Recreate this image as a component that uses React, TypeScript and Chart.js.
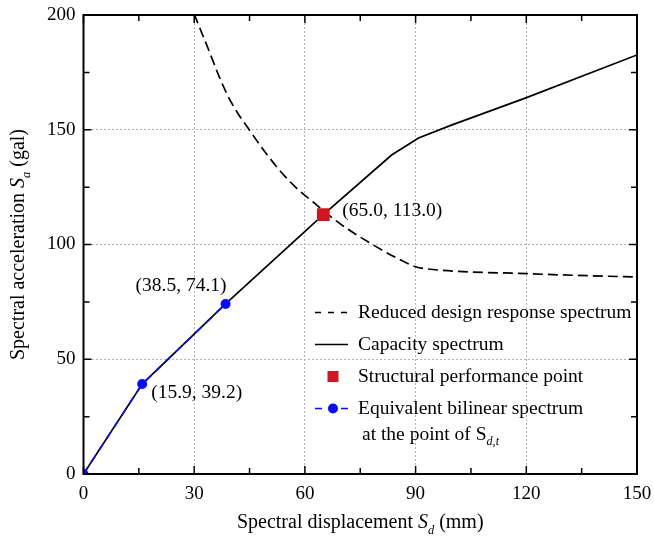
import React, { useEffect, useRef } from 'react';
import { Chart, registerables } from 'chart.js';

Chart.register(...registerables);

const FONT = "'Liberation Serif', 'Times New Roman', Times, serif";

// Reduced design response spectrum (dashed)
const designX = [30.0, 30.6, 33.8, 36.5, 39.2, 41.9, 45.0, 49.1, 53.6, 58.1, 62.6, 65.7, 70.7, 77.9, 85.0, 90.0, 92.5, 120.0, 150.0];
const designY = [200.5, 198.0, 185.3, 174.2, 164.5, 157.0, 149.8, 140.5, 131.5, 124.0, 118.0, 113.8, 107.7, 100.4, 94.0, 90.3, 89.5, 87.3, 85.8];

// Capacity spectrum (solid)
const capacityX = [0, 15.9, 38.5, 65.0, 83.5, 90.8, 99.7, 119.7, 150.0];
const capacityY = [0, 39.2, 74.1, 113.0, 139.0, 146.4, 152.0, 163.8, 182.6];

// Equivalent bilinear spectrum
const bilinearX = [0, 15.9, 38.5];
const bilinearY = [0, 39.2, 74.1];

// Structural performance point
const perfX = [65.0];
const perfY = [113.0];

// Point labels
const labelX = [15.9, 38.5, 65.0];
const labelY = [39.2, 74.1, 113.0];
const labelText = ['(15.9, 39.2)', '(38.5, 74.1)', '(65.0, 113.0)'];

// Axes
const xMin = 0, xMax = 150, xMajor = 30, xMinor = 15;
const yMin = 0, yMax = 200, yMajor = 50, yMinor = 25;

const legendLabels = [
  'Reduced design response spectrum',
  'Capacity spectrum',
  'Structural performance point',
  'Equivalent bilinear spectrum',
];

const BLUE = '#0a0aff';
const RED = '#d0161e';

type Seg = { t: string; it?: boolean; sub?: boolean };

function segFont(s: Seg, size: number) {
  return `${s.it ? 'italic ' : ''}${s.sub ? size * 0.62 : size}px ${FONT}`;
}
function richWidth(ctx: CanvasRenderingContext2D, segs: Seg[], size: number) {
  let w = 0;
  for (const s of segs) {
    ctx.font = segFont(s, size);
    w += ctx.measureText(s.t).width;
  }
  return w;
}
function drawRich(ctx: CanvasRenderingContext2D, segs: Seg[], x: number, y: number, size: number, align: 'left' | 'center' | 'right') {
  const w = richWidth(ctx, segs, size);
  let cx = align === 'center' ? x - w / 2 : align === 'right' ? x - w : x;
  ctx.textAlign = 'left';
  ctx.textBaseline = 'alphabetic';
  for (const s of segs) {
    ctx.font = segFont(s, size);
    ctx.fillText(s.t, cx, s.sub ? y + size * 0.28 : y);
    cx += ctx.measureText(s.t).width;
  }
}

const decorPlugin = {
  id: 'decor',
  afterDraw(chart: any) {
    const { ctx, chartArea: a, scales } = chart;
    const xs = scales.x;
    const ys = scales.y;
    ctx.save();
    ctx.strokeStyle = '#000';
    ctx.fillStyle = '#000';
    ctx.setLineDash([]);
    // inward ticks on all four sides
    ctx.lineWidth = 1.5;
    ctx.beginPath();
    for (let v = xMin; v <= xMax; v += xMinor) {
      const px = xs.getPixelForValue(v);
      const L = v % xMajor === 0 ? 8 : 6;
      ctx.moveTo(px, a.bottom); ctx.lineTo(px, a.bottom - L);
      ctx.moveTo(px, a.top); ctx.lineTo(px, a.top + L);
    }
    for (let v = yMin; v <= yMax; v += yMinor) {
      const py = ys.getPixelForValue(v);
      const L = v % yMajor === 0 ? 8 : 6;
      ctx.moveTo(a.left, py); ctx.lineTo(a.left + L, py);
      ctx.moveTo(a.right, py); ctx.lineTo(a.right - L, py);
    }
    ctx.stroke();
    // frame
    ctx.lineWidth = 2;
    ctx.strokeRect(a.left, a.top, a.right - a.left, a.bottom - a.top);

    // point labels
    const offs = [
      { dx: 9, dy: 13.5, align: 'left' },
      { dx: 1, dy: -12.5, align: 'right' },
      { dx: 19, dy: 1, align: 'left' },
    ];
    for (let i = 0; i < labelText.length; i++) {
      const px = xs.getPixelForValue(labelX[i]);
      const py = ys.getPixelForValue(labelY[i]);
      drawRich(ctx, [{ t: labelText[i] }], px + offs[i].dx, py + offs[i].dy, 19.5, offs[i].align as any);
    }

    // legend
    const lx0 = 315, lx1 = 348, tx = 358;
    const rows = [312.5, 344.5, 376.5, 408.5];
    const base = [317.5, 350, 382, 413.5];
    ctx.lineWidth = 1.7;
    ctx.strokeStyle = '#000';
    ctx.setLineDash([6, 7]);
    ctx.beginPath(); ctx.moveTo(lx0, rows[0]); ctx.lineTo(lx1, rows[0]); ctx.stroke();
    ctx.setLineDash([]);
    ctx.beginPath(); ctx.moveTo(lx0, rows[1]); ctx.lineTo(lx1, rows[1]); ctx.stroke();
    ctx.fillStyle = RED;
    ctx.fillRect(327.5, rows[2] - 5.5, 11, 11);
    ctx.strokeStyle = BLUE;
    ctx.beginPath(); ctx.moveTo(lx0, rows[3]); ctx.lineTo(lx0 + 7, rows[3]); ctx.moveTo(lx1 - 7, rows[3]); ctx.lineTo(lx1, rows[3]); ctx.stroke();
    ctx.fillStyle = BLUE;
    ctx.beginPath(); ctx.arc(333, rows[3], 5, 0, Math.PI * 2); ctx.fill();
    ctx.fillStyle = '#000';
    for (let i = 0; i < legendLabels.length; i++) {
      drawRich(ctx, [{ t: legendLabels[i] }], tx, base[i], 19.5, 'left');
    }
    drawRich(ctx, [{ t: 'at the point of S' }, { t: 'd,t', it: true, sub: true }], 362, 439.5, 19.5, 'left');

    // axis titles
    const cxTitle = (a.left + a.right) / 2;
    drawRich(ctx, [{ t: 'Spectral displacement ' }, { t: 'S', it: true }, { t: 'd', it: true, sub: true }, { t: ' (mm)' }], cxTitle, 528, 20, 'center');
    ctx.translate(24, (a.top + a.bottom) / 2);
    ctx.rotate(-Math.PI / 2);
    drawRich(ctx, [{ t: 'Spectral acceleration ' }, { t: 'S', it: true }, { t: 'a', it: true, sub: true }, { t: ' (gal)' }], 0, 0, 20, 'center');
    ctx.restore();
  },
};

function gridColor(major: number, min: number, max: number) {
  return (c: any) => {
    const v = c.tick ? c.tick.value : NaN;
    return v % major === 0 && v > min && v < max ? '#b4b4b4' : 'rgba(0,0,0,0)';
  };
}

export default function App() {
  const ref = useRef<HTMLCanvasElement | null>(null);
  useEffect(() => {
    if (!ref.current) return;
    const toPts = (xs: number[], ys: number[]) => xs.map((x, i) => ({ x, y: ys[i] }));
    const chart = new Chart(ref.current, {
      type: 'scatter',
      data: {
        datasets: [
          {
            label: legendLabels[2],
            data: toPts(perfX, perfY),
            pointStyle: 'rect',
            pointRadius: 9,
            backgroundColor: RED,
            borderColor: RED,
            borderWidth: 0,
            showLine: false,
            order: 0,
          },
          {
            label: legendLabels[3],
            data: toPts(bilinearX, bilinearY),
            showLine: true,
            borderColor: BLUE,
            borderWidth: 1.7,
            borderDash: [8, 6],
            pointRadius: 5,
            pointBackgroundColor: BLUE,
            pointBorderWidth: 0,
            order: 1,
          },
          {
            label: legendLabels[1],
            data: toPts(capacityX, capacityY),
            showLine: true,
            borderColor: '#000',
            borderWidth: 1.7,
            pointRadius: 0,
            order: 2,
          },
          {
            label: legendLabels[0],
            data: toPts(designX, designY),
            showLine: true,
            borderColor: '#000',
            borderWidth: 1.7,
            borderDash: [10, 5],
            cubicInterpolationMode: 'monotone',
            pointRadius: 0,
            order: 3,
          },
        ],
      } as any,
      options: {
        animation: false,
        responsive: false,
        layout: { padding: { left: 0, top: 15, right: 17, bottom: 0 } },
        plugins: { legend: { display: false }, tooltip: { enabled: false } },
        scales: {
          x: {
            type: 'linear',
            min: xMin,
            max: xMax,
            afterFit: (s: any) => { s.height = 71; s.paddingLeft = 0; s.paddingRight = 0; },
            ticks: {
              stepSize: xMinor,
              autoSkip: false,
              maxRotation: 0,
              padding: 9,
              color: '#000',
              font: { family: FONT, size: 19 },
              callback: (v: any) => (Number(v) % xMajor === 0 ? String(v) : ''),
            },
            grid: { color: gridColor(xMajor, xMin, xMax), lineWidth: 1, drawTicks: false },
            border: { display: false, dash: [2, 2] },
          },
          y: {
            type: 'linear',
            min: yMin,
            max: yMax,
            afterFit: (s: any) => { s.width = 83.5; s.paddingTop = 0; s.paddingBottom = 0; },
            ticks: {
              stepSize: yMinor,
              autoSkip: false,
              padding: 8,
              color: '#000',
              font: { family: FONT, size: 19 },
              callback: (v: any) => (Number(v) % yMajor === 0 ? String(v) : ''),
            },
            grid: { color: gridColor(yMajor, yMin, yMax), lineWidth: 1, drawTicks: false },
            border: { display: false, dash: [2, 2] },
          },
        },
      } as any,
      plugins: [decorPlugin],
    });
    return () => chart.destroy();
  }, []);
  return (
    <div style={{ position: 'absolute', left: 0, top: 0, width: 654, height: 545, background: '#fff' }}>
      <canvas ref={ref} width={654} height={545} />
    </div>
  );
}
